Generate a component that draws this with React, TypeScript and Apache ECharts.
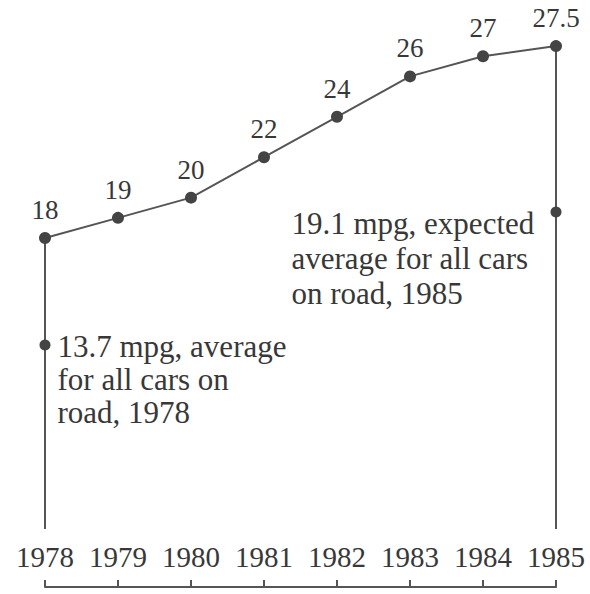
import React, { useEffect, useRef } from "react";
import * as echarts from "echarts";

const years = [1978, 1979, 1980, 1981, 1982, 1983, 1984, 1985];
const mpg = [18, 19, 20, 22, 24, 26, 27, 27.5];
const yearLabels = ["1978", "1979", "1980", "1981", "1982", "1983", "1984", "1985"];
const mpgLabels = ["18", "19", "20", "22", "24", "26", "27", "27.5"];

const fleetYears = [1978, 1985];
const fleetMpg = [13.7, 19.1];
const fleetNotes = [
  "13.7 mpg, average\nfor all cars on\nroad, 1978",
  "19.1 mpg, expected\naverage for all cars\non road, 1985",
];

const Y_MIN = 3.6;
const Y_MAX = 28;
const FLEET_MIN = 6.23;
const FLEET_MAX = 26.25;

const FONT = "'Liberation Serif', 'Times New Roman', serif";
const INK = "#383838";
const DOT = "#444";
const LINE = "#555";

export default function App() {
  const ref = useRef<HTMLDivElement>(null);

  useEffect(() => {
    if (!ref.current) return;
    const chart = echarts.init(ref.current, undefined, { renderer: "svg" });

    const mainData = years.map((y, i) => [y, mpg[i]]);
    const firstIdx = 0;
    const lastIdx = years.length - 1;

    const dropSeries = [firstIdx, lastIdx].map((idx) => ({
      type: "line",
      xAxisIndex: 0,
      yAxisIndex: 0,
      symbol: "none",
      silent: true,
      lineStyle: { color: LINE, width: 2 },
      data: [
        [years[idx], mpg[idx]],
        [years[idx], Y_MIN],
      ],
      z: 1,
    }));

    const option: any = {
      animation: false,
      backgroundColor: "#fff",
      grid: [
        { left: 45, width: 511, top: 36, height: 493 },
        { left: 45, width: 511, top: 540, height: 47 },
      ],
      xAxis: [
        { gridIndex: 0, type: "value", min: 1978, max: 1985, show: false },
        {
          gridIndex: 1,
          type: "value",
          min: 1978,
          max: 1985,
          interval: 1,
          splitLine: { show: false },
          axisLine: { show: true, lineStyle: { color: LINE, width: 2 } },
          axisTick: { show: true, inside: true, length: 7, lineStyle: { color: LINE, width: 2 } },
          axisLabel: {
            inside: true,
            margin: 16,
            showMinLabel: true,
            showMaxLabel: true,
            fontFamily: FONT,
            fontSize: 29,
            color: INK,
            formatter: (v: number) => yearLabels[years.indexOf(v)] ?? "",
          },
        },
      ],
      yAxis: [
        { gridIndex: 0, type: "value", min: Y_MIN, max: Y_MAX, show: false },
        { gridIndex: 0, type: "value", min: FLEET_MIN, max: FLEET_MAX, show: false },
        { gridIndex: 1, type: "value", min: 0, max: 1, show: false },
      ],
      series: [
        ...dropSeries,
        {
          type: "line",
          xAxisIndex: 0,
          yAxisIndex: 0,
          data: mainData,
          symbol: "circle",
          symbolSize: 12,
          lineStyle: { color: LINE, width: 2 },
          itemStyle: { color: DOT, opacity: 1 },
          label: {
            show: true,
            position: "top",
            distance: 8,
            fontFamily: FONT,
            fontSize: 27,
            lineHeight: 28,
            color: INK,
            formatter: (p: any) => mpgLabels[p.dataIndex],
          },
          z: 3,
        },
        {
          type: "scatter",
          xAxisIndex: 0,
          yAxisIndex: 1,
          symbol: "circle",
          symbolSize: 11,
          itemStyle: { color: DOT, opacity: 1 },
          data: [
            {
              value: [fleetYears[0], fleetMpg[0]],
              label: {
                show: true,
                position: "right",
                distance: 7,
                align: "left",
                verticalAlign: "top",
                lineHeight: 33,
                offset: [0, -15],
              },
            },
            {
              value: [fleetYears[1], fleetMpg[1]],
              label: {
                show: true,
                position: "left",
                distance: 5,
                align: "left",
                verticalAlign: "top",
                lineHeight: 35,
                offset: [-254, -6],
              },
            },
          ],
          label: {
            fontFamily: FONT,
            fontSize: 31,
            lineHeight: 35,
            color: INK,
            opacity: 1,
            formatter: (p: any) => fleetNotes[p.dataIndex],
          },
          z: 4,
        },
      ],
    };

    chart.setOption(option);
    return () => chart.dispose();
  }, []);

  return (
    <div
      ref={ref}
      style={{ position: "fixed", left: 0, top: 0, width: 590, height: 594, background: "#fff" }}
    />
  );
}
